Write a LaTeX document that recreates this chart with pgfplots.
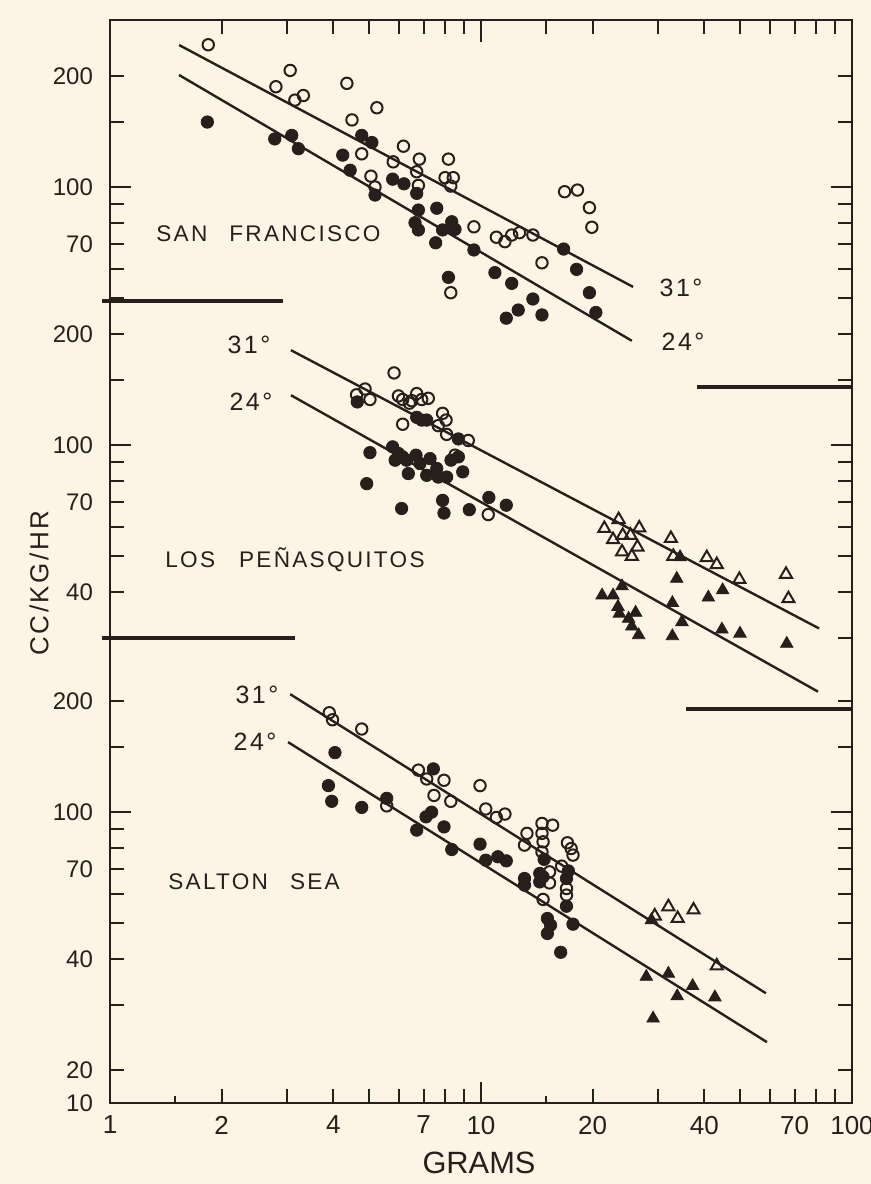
\documentclass[border=0pt]{standalone}
\usepackage{fontspec}
\setmainfont{Liberation Sans}
\newfontfamily\labfont[LetterSpace=10]{Liberation Sans}
\usepackage{pgfplots}
\pgfplotsset{compat=1.18}
\definecolor{ink}{RGB}{38,31,28}
\definecolor{paper}{RGB}{252,245,229}
\pgfplotsset{
  sketchpanel/.style={
    scale only axis, width=371pt, xmin=1, xmax=100,
    axis line style={draw=none},
    tick style={draw=ink, line width=1pt},
    tick align=inside,
    ytick pos=both, yticklabel pos=left,
    major tick length=7pt, minor tick length=3.5pt,
    yticklabel style={font=\fontsize{12}{14}\selectfont, text=ink, xshift=-5pt},
    xticklabel style={font=\fontsize{13}{15}\selectfont, text=ink, yshift=-3pt},
    extra y ticks={100}, extra y tick labels={100},
    extra y tick style={major tick length=10.5pt},
    clip=false, anchor=north west,
  },
  openc/.style={only marks, color=ink, mark=o, mark size=2.85pt, mark options={line width=1pt}},
  fillc/.style={only marks, color=ink, mark=*, mark size=3.1pt, mark options={line width=0.4pt, fill=ink}},
  opent/.style={only marks, color=ink, mark=triangle, mark size=3.5pt, mark options={line width=1pt}},
  fillt/.style={only marks, color=ink, mark=triangle*, mark size=3.6pt, mark options={line width=0.4pt, fill=ink}},
  fitl/.style={color=ink, line width=1.2pt, no marks},
}
\begin{document}
\begin{tikzpicture}
\path[use as bounding box, fill=paper] (0,0) rectangle (435.5pt,-592pt);
% ---------------- San Francisco ----------------
\begin{loglogaxis}[sketchpanel, at={(55pt,-10pt)}, height=183.5pt, ymin=28.7, ymax=283.6,
  ytick={40,50,60,70,80,90,150,200}, yticklabels={,,,70,,,,200},
  xtick pos=right, xtick={2,3,4,5,6,7,8,9,15,20,30,40,50,60,70,80,90}, xticklabels={\empty},
  extra x ticks={10}, extra x tick labels={\empty}, extra x tick style={major tick length=11pt}]
\addplot[fitl] coordinates {(1.535,242.6) (25.7,53.6)};
\addplot[fitl] coordinates {(1.535,201.2) (25.5,38.3)};
\addplot[fillc] coordinates {(1.83,150) (2.78,135) (3.09,138) (3.22,127) (4.77,138) (5.08,132) (4.24,122) (4.44,111) (5.18,95.1) (5.78,105) (6.20,102) (6.71,96.1) (6.78,86.6) (6.64,80.0) (6.78,76.5) (7.60,87.6) (7.88,76.5) (7.55,70.6) (8.17,56.9) (8.34,80.5) (8.51,76.8) (9.57,67.5) (10.9,58.6) (12.1,54.8) (13.8,49.7) (12.6,46.4) (11.7,44.1) (14.6,45.0) (16.7,67.9) (18.1,59.8) (19.6,51.7) (20.4,45.7)};
\addplot[openc] coordinates {(1.84,243) (3.06,207) (2.80,187) (3.15,172) (3.32,177) (4.35,191) (5.24,164) (4.49,152) (6.18,129) (4.77,123) (5.80,117) (6.82,119) (6.71,110) (8.17,119) (5.05,107) (5.18,100) (6.78,101) (8.00,106) (8.42,106) (8.29,100.6) (9.57,78.0) (11.0,73.1) (11.6,71.1) (12.1,74.1) (12.7,75.2) (13.8,74.1) (14.6,62.3) (16.8,97.1) (18.2,98.1) (19.6,87.9) (19.9,77.8) (8.29,51.7)};
\end{loglogaxis}
% ---------------- Los Penasquitos ----------------
\begin{loglogaxis}[sketchpanel, at={(55pt,-150pt)}, height=204.5pt, ymin=19.3, ymax=247.4,
  ytick={30,40,50,60,70,80,90,150,200}, yticklabels={,40,,,70,,,,200},
  xtick=\empty]
\addplot[fitl] coordinates {(3.075,180.9) (81.5,31.9)};
\addplot[fitl] coordinates {(3.075,136.6) (81.0,21.5)};
\addplot[fillc] coordinates {(4.64,131) (5.02,95.5) (4.92,78.7) (6.11,67.4) (6.71,119) (6.92,117) (7.14,117) (8.69,104) (5.78,99.0) (5.99,95.0) (5.87,91.1) (6.15,93.0) (6.30,91.1) (6.68,94.0) (6.37,83.8) (6.85,89.2) (7.29,92.0) (7.14,82.9) (7.60,86.5) (7.67,82.0) (8.08,82.0) (8.30,91.1) (8.69,93.0) (8.93,84.7) (7.88,70.9) (7.95,65.5) (9.30,66.9) (10.5,72.2) (11.7,68.8)};
\addplot[openc] coordinates {(5.83,157) (4.62,137) (4.87,142) (5.02,133) (5.99,136) (6.15,133) (6.41,130) (6.51,132) (6.71,138) (6.92,133) (7.21,134) (6.15,114) (7.88,122) (8.05,117) (7.67,113) (8.08,107) (9.24,103) (8.51,94) (10.46,64.9)};
\addplot[fillt] coordinates {(33.7,43.5) (24.0,41.5) (21.2,39.2) (22.7,39.2) (23.4,36.5) (23.6,35.0) (26.1,35.2) (25.0,33.9) (25.5,32.3) (26.6,30.6) (32.8,37.4) (34.8,33.2) (32.8,30.4) (41.0,38.7) (44.8,40.5) (44.6,31.7) (49.9,30.9) (66.7,29.0) (34.4,49.8)};
\addplot[opent] coordinates {(23.5,62.9) (21.5,59.5) (26.7,59.7) (24.1,57.0) (25.3,57.0) (22.7,55.5) (26.4,53.0) (24.0,51.4) (25.5,50.0) (32.5,55.9) (33.0,50.0) (40.6,49.6) (43.2,47.5) (49.7,43.3) (66.4,44.7) (67.4,38.4)};
\end{loglogaxis}
% ---------------- Salton Sea ----------------
\begin{loglogaxis}[sketchpanel, at={(55pt,-319pt)}, height=232.5pt, ymin=16.28, ymax=296.5,
  ytick={16.28,20,30,40,50,60,70,80,90,150,200}, yticklabels={10,20,,40,,,70,,,,200},
  xtick pos=left,
  xtick={1,2,3,4,5,6,7,8,9,20,30,40,50,60,70,80,90,100},
  xticklabels={1,2,,4,,,7,,,20,,40,,,70,,,100},
  minor xtick={1.5,15},
  extra x ticks={10}, extra x tick labels={10}, extra x tick style={major tick length=10.5pt}]
\addplot[fitl] coordinates {(3.06,208.8) (58.6,32.3)};
\addplot[fitl] coordinates {(3.02,154.8) (59.0,23.8)};
\addplot[fillc] coordinates {(4.04,145) (3.88,118) (3.96,107) (4.77,103) (5.57,109) (7.44,131) (7.36,100) (7.11,97.1) (6.71,89.4) (7.95,91.2) (8.34,79.2) (9.94,81.9) (10.3,74.1) (11.1,75.7) (11.7,73.8) (13.1,66.1) (13.1,63.4) (14.8,74.5) (14.4,68.2) (14.4,64.7) (14.7,66.8) (17.2,69.3) (17.0,66.1) (17.0,55.6) (15.1,51.5) (15.4,49.4) (15.1,46.9) (17.7,49.7) (16.4,41.7)};
\addplot[openc] coordinates {(3.90,186) (3.98,178) (4.77,168) (6.78,130) (7.14,123) (7.95,122) (9.94,118) (7.47,111) (8.29,107) (10.3,102) (11.0,96.7) (11.6,98.8) (13.3,87.6) (13.1,81.4) (14.6,93.2) (15.6,92.2) (14.6,87.6) (14.7,83.1) (17.1,82.6) (17.5,79.7) (17.7,76.5) (5.57,104) (14.6,78.0) (15.3,68.9) (15.3,64.3) (16.5,71.4) (17.0,62.1) (17.0,59.6) (14.7,58.0)};
\addplot[fillt] coordinates {(28.8,51.0) (27.9,35.8) (32.0,36.5) (37.2,33.8) (33.8,31.7) (42.7,31.5) (29.1,27.6)};
\addplot[opent] coordinates {(32.0,55.4) (29.4,52.3) (33.9,51.5) (37.4,54.3) (43.2,38.3)};
\end{loglogaxis}
% ---------------- frame, separators, labels ----------------
\begin{scope}[x=0.5pt, y=-0.5pt]
\draw[ink, line width=1.1pt] (110,20) -- (852,20) -- (852,1103) -- (110,1103) -- cycle;
\draw[ink, line width=1.8pt] (102,301) -- (283,301);
\draw[ink, line width=1.8pt] (102,638) -- (295,638);
\draw[ink, line width=1.8pt] (697,387) -- (852,387);
\draw[ink, line width=1.8pt] (686,709) -- (852,709);
\begin{scope}[every node/.style={text=ink, inner sep=0pt}]
\node[font=\labfont\fontsize{12.5}{14}\selectfont] at (681,288) {31°};
\node[font=\labfont\fontsize{12.5}{14}\selectfont] at (683,342) {24°};
\node[font=\labfont\fontsize{12.5}{14}\selectfont] at (249,345) {31°};
\node[font=\labfont\fontsize{12.5}{14}\selectfont] at (251,402) {24°};
\node[font=\labfont\fontsize{12.5}{14}\selectfont] at (257,695) {31°};
\node[font=\labfont\fontsize{12.5}{14}\selectfont] at (255,742) {24°};
\node[anchor=west, font=\labfont\fontsize{11.3}{13}\selectfont] at (156,234) {SAN\hspace{11pt}FRANCISCO};
\node[anchor=west, font=\labfont\fontsize{11.3}{13}\selectfont] at (165,560) {LOS\hspace{12pt}PEÑASQUITOS};
\node[anchor=west, font=\labfont\fontsize{11.3}{13}\selectfont] at (168,882) {SALTON\hspace{11pt}SEA};
\node[rotate=90, font=\labfont\fontsize{13}{15}\selectfont] at (39,583) {CC/KG/HR};
\node[font=\fontsize{15.4}{17}\selectfont] at (479,1163) {GRAMS};
\end{scope}
\end{scope}
\end{tikzpicture}
\end{document}
